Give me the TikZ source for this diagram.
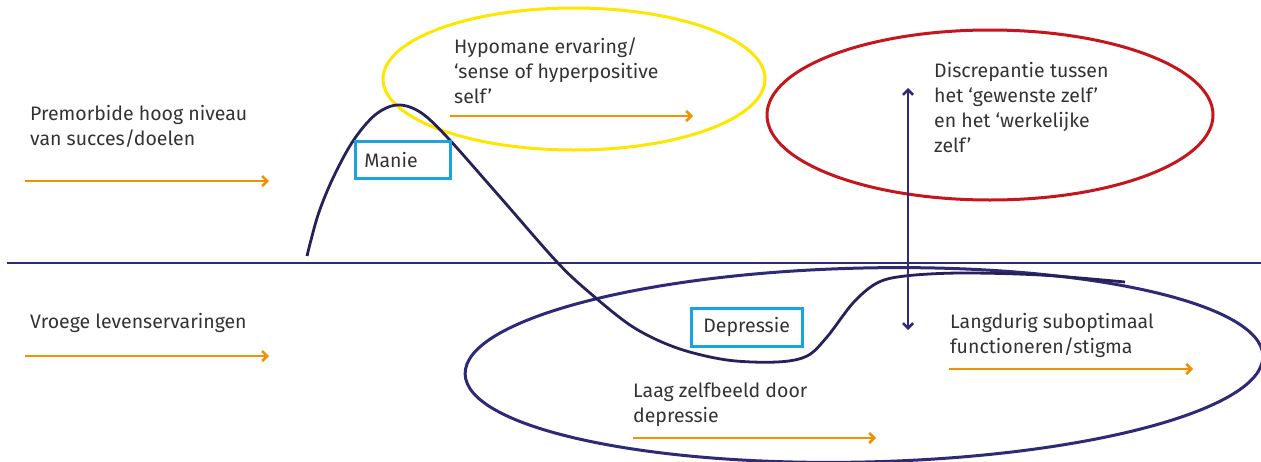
\documentclass[tikz,border=0pt]{standalone}
\usepackage{fontspec}
\setmainfont{Fira Sans}
\usetikzlibrary{arrows.meta,shapes.geometric}
\definecolor{indigo}{HTML}{2E2A78}
\definecolor{curvec}{HTML}{262259}
\definecolor{ylw}{HTML}{FFE600}
\definecolor{rd}{HTML}{C4161C}
\definecolor{org}{HTML}{F39200}
\definecolor{cyanb}{HTML}{1AA3DF}
\definecolor{txt}{HTML}{333333}
\begin{document}
\begin{tikzpicture}[x=1pt,y=-1pt,
  lbl/.style={anchor=base west, align=left, font=\fontsize{19.5}{25}\selectfont, text=txt, inner sep=0pt},
  oarrow/.style={draw=org, line width=2.6pt, -{Straight Barb[length=5pt,width=10pt,line width=2.6pt]}},
  boxlbl/.style={draw=cyanb, line width=2.8pt, align=left, font=\fontsize{19.5}{25}\selectfont, text=txt, inner ysep=0pt},
  oval/.style={ellipse, line width=3pt, inner sep=0pt}]
\useasboundingbox (0,0) rectangle (1261,461);

% ellipses
\node[oval, draw=ylw, minimum width=382pt, minimum height=142pt] (yell) at (574,79) {};
\node[oval, draw=rd, minimum width=446pt, minimum height=170pt] (redell) at (990,115) {};
\node[oval, draw=indigo, minimum width=798pt, minimum height=194pt, rotate=1.3] (bigell) at (864,365) {};

% baseline
\coordinate (hl) at (7,263);
\coordinate (hr) at (1261,263);
\draw[indigo, line width=2.6pt] (hl) -- (hr);

% curve
\draw[curvec, line width=2.8pt] plot[smooth, tension=0.55] coordinates {
 (307,256) (318,215) (333,178) (353,141) (375,115) (397,105) (420,112) (447,137)
 (500,197) (557,262) (590,293) (633,327) (677,348) (727,360) (777,362) (807,356)
 (827,337) (853,303) (877,283) (905,276) (960,273) (1040,275) (1125,282)};

% boxes
\node[boxlbl, anchor=north west, minimum width=95pt, minimum height=37pt, text width=77pt, inner xsep=9pt] (manie) at (354,140) {Manie};
\node[boxlbl, anchor=north west, minimum width=111pt, minimum height=38pt, text width=87pt, inner xsep=12pt] (depr) at (690,307) {Depressie};

% texts (anchored at baseline of last line)
\node[lbl] (t1) at (30,145) {Premorbide hoog niveau\\van succes/doelen};
\node[lbl] (t2) at (30,328) {Vroege levenservaringen};
\node[lbl] (t3) at (454,103) {Hypomane ervaring/\\‘sense of hyperpositive\\self’};
\node[lbl] (t4) at (934,152) {Discrepantie tussen\\het ‘gewenste zelf’\\en het ‘werkelijke\\zelf’};
\node[lbl] (t5) at (950,353) {Langdurig suboptimaal\\functioneren/stigma};
\node[lbl] (t6) at (633,422) {Laag zelfbeeld door\\depressie};

% orange arrows
\coordinate (a1s) at (25,181);  \coordinate (a1e) at (269,181);
\coordinate (a2s) at (25,356);  \coordinate (a2e) at (269,356);
\coordinate (a3s) at (450,116); \coordinate (a3e) at (693,116);
\coordinate (a4s) at (633,438); \coordinate (a4e) at (876,438);
\coordinate (a5s) at (949,369); \coordinate (a5e) at (1193,369);
\draw[oarrow] (a1s) -- (a1e);
\draw[oarrow] (a2s) -- (a2e);
\draw[oarrow] (a3s) -- (a3e);
\draw[oarrow] (a4s) -- (a4e);
\draw[oarrow] (a5s) -- (a5e);

% vertical double arrow
\coordinate (d1) at (908,88);
\coordinate (d2) at (908,330);
\draw[indigo, line width=2.6pt, {Straight Barb[length=5pt,width=10pt,line width=2.6pt]}-{Straight Barb[length=5pt,width=10pt,line width=2.6pt]}] (d1) -- (d2);
\end{tikzpicture}
\end{document}
